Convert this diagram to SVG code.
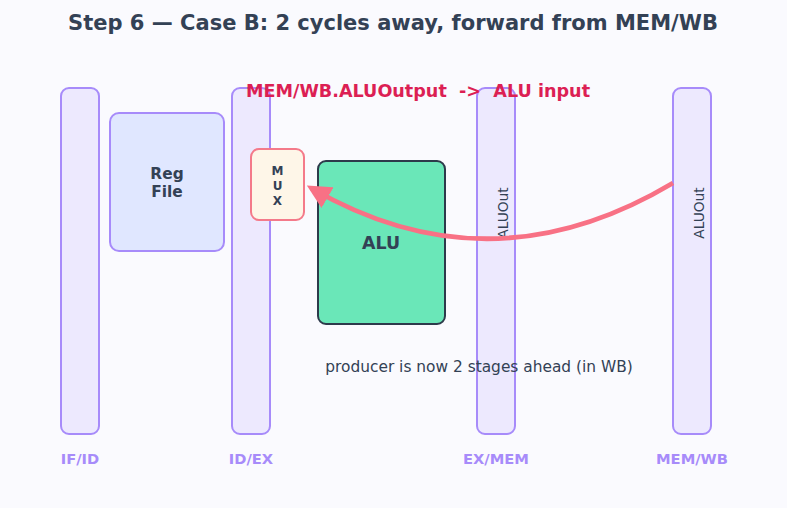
<svg xmlns="http://www.w3.org/2000/svg" width="787" height="508" viewBox="0 0 787 508">
<style>
.bar{fill:#ede9fe;stroke:#a78bfa;stroke-width:2}
.lbl{font-family:"DejaVu Sans",sans-serif;font-weight:bold;font-size:14.7px;fill:#a78bfa;text-anchor:middle}
.dark{font-family:"DejaVu Sans",sans-serif;fill:#334155;text-anchor:middle}
.rot{font-family:"DejaVu Sans",sans-serif;font-size:13.8px;fill:#334155;text-anchor:middle}
</style>
<defs>
<marker id="ah" viewBox="0 0 10 10" refX="8" refY="5" markerWidth="5" markerHeight="5" orient="auto" markerUnits="strokeWidth">
<path d="M0,0 L10,5 L0,10 Z" fill="#f87185"/>
</marker>
</defs>
<rect width="787" height="508" fill="#fafafe"/>
<text class="dark" x="393" y="30" font-size="21" font-weight="bold">Step 6 — Case B: 2 cycles away, forward from MEM/WB</text>
<g id="ifid"><rect class="bar" x="61" y="88" width="38" height="346" rx="8"/><text class="lbl" x="80" y="464">IF/ID</text></g>
<g id="regfile"><rect x="110" y="113" width="114" height="138" rx="9" fill="#e0e7ff" stroke="#a78bfa" stroke-width="2"/><text class="dark" font-size="15.4" font-weight="bold"><tspan x="167" y="179">Reg</tspan><tspan x="167" y="197">File</tspan></text></g>
<g id="idex"><rect class="bar" x="232" y="88" width="38" height="346" rx="8"/><text class="lbl" x="251" y="464">ID/EX</text></g>
<g id="mux"><rect x="251" y="149" width="53" height="71" rx="8" fill="#fef6e8" stroke="#f47a8a" stroke-width="2"/><text class="dark" font-size="12" font-weight="bold"><tspan x="277.5" y="175">M</tspan><tspan x="277.5" y="190">U</tspan><tspan x="277.5" y="205">X</tspan></text></g>
<g id="alu"><rect x="318" y="161" width="127" height="163" rx="8" fill="#6ae7b8" stroke="#2d3a4b" stroke-width="2"/><text class="dark" x="381" y="249" font-size="17.4" font-weight="bold">ALU</text></g>
<g id="exmem"><rect class="bar" x="477" y="88" width="38" height="346" rx="8"/><text class="rot" transform="translate(508,213) rotate(-90)">ALUOut</text><text class="lbl" x="496" y="464">EX/MEM</text></g>
<g id="memwb"><rect class="bar" x="673" y="88" width="38" height="346" rx="8"/><text class="rot" transform="translate(704,213) rotate(-90)">ALUOut</text><text class="lbl" x="692" y="464">MEM/WB</text></g>
<g id="connectors"><path d="M673,183 Q490,292 311,188" fill="none" stroke="#f87185" stroke-width="4.8" marker-end="url(#ah)"/></g>
<text x="418" y="97" font-family="DejaVu Sans,sans-serif" font-size="17.6" font-weight="bold" fill="#dc1f54" text-anchor="middle" xml:space="preserve">MEM/WB.ALUOutput  -&gt;  ALU input</text>
<text class="dark" x="479" y="372" font-size="15.4">producer is now 2 stages ahead (in WB)</text>
</svg>
